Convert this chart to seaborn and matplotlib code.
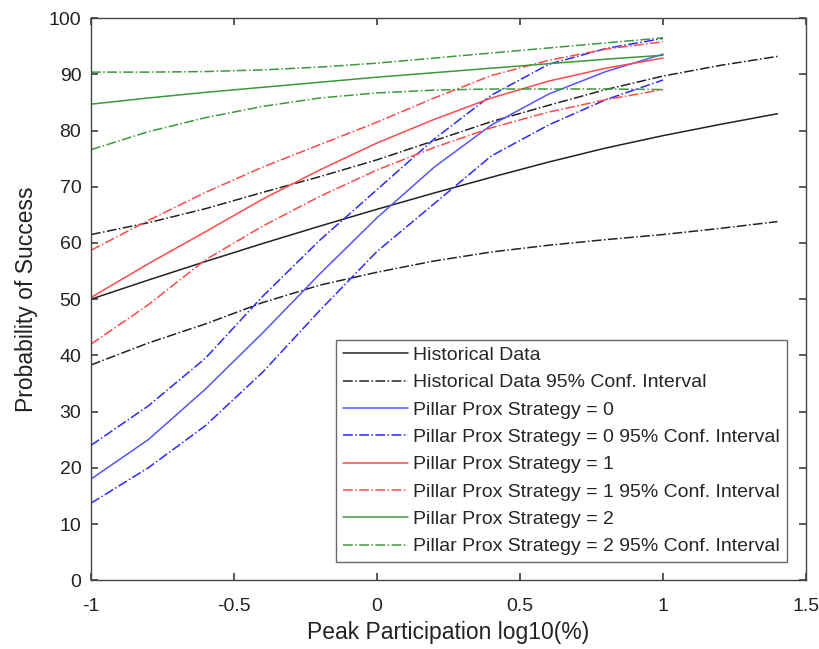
import pandas as pd
import matplotlib
matplotlib.use('Agg')
import matplotlib.pyplot as plt
import seaborn as sns

#%% data
x_hist = [-1.0, -0.8, -0.6, -0.4, -0.2, 0.0, 0.2, 0.4, 0.6, 0.8, 1.0, 1.2, 1.4]
hist_mean = [50.0, 53.4, 56.7, 59.9, 63.0, 66.0, 68.9, 71.7, 74.4, 76.9, 79.1, 81.1, 83.0]
hist_upper = [61.5, 63.6, 66.1, 69.0, 71.8, 74.8, 78.2, 81.6, 84.5, 87.3, 89.7, 91.6, 93.2]
hist_lower = [38.3, 42.2, 45.6, 49.4, 52.5, 54.8, 56.8, 58.4, 59.6, 60.6, 61.5, 62.6, 63.8]

x_pp = [-1.0, -0.8, -0.6, -0.4, -0.2, 0.0, 0.2, 0.4, 0.6, 0.8, 1.0]
pp0_mean = [18.0, 25.0, 34.0, 44.0, 54.5, 64.5, 73.5, 81.0, 86.5, 90.5, 93.6]
pp0_upper = [24.0, 31.0, 39.5, 50.5, 60.5, 69.5, 78.5, 86.3, 91.8, 94.6, 96.4]
pp0_lower = [13.7, 20.0, 27.5, 37.0, 48.0, 58.5, 67.0, 75.5, 81.0, 85.5, 89.0]

pp1_mean = [50.3, 56.3, 62.0, 67.8, 73.0, 77.8, 82.0, 85.8, 88.8, 91.1, 92.9]
pp1_upper = [58.7, 64.0, 69.0, 73.5, 77.5, 81.5, 85.8, 89.8, 92.5, 94.5, 95.8]
pp1_lower = [42.0, 49.0, 57.0, 63.0, 68.3, 73.0, 77.0, 80.5, 83.3, 85.5, 87.3]

pp2_mean = [84.7, 85.8, 86.8, 87.7, 88.6, 89.5, 90.3, 91.1, 91.9, 92.7, 93.4]
pp2_upper = [90.4, 90.4, 90.5, 90.8, 91.3, 92.0, 92.9, 93.8, 94.7, 95.6, 96.5]
pp2_lower = [76.6, 79.8, 82.3, 84.3, 85.8, 86.7, 87.2, 87.4, 87.4, 87.4, 87.3]

#%% style
sns.set_theme(style="ticks")
plt.rcParams['font.family'] = ['Liberation Sans', 'DejaVu Sans']

fig = plt.figure(figsize=(8.2, 6.49), dpi=100)
ax = fig.add_axes([0.111, 0.106, 0.872, 0.866])

series = [
    (x_hist, hist_mean, '#222222', '-', 'Historical Data'),
    (x_hist, hist_upper, '#222222', '-.', 'Historical Data 95% Conf. Interval'),
    (x_hist, hist_lower, '#222222', '-.', None),
    (x_pp, pp0_mean, '#5555ff', '-', 'Pillar Prox Strategy = 0'),
    (x_pp, pp0_upper, '#2a2aff', '-.', 'Pillar Prox Strategy = 0 95% Conf. Interval'),
    (x_pp, pp0_lower, '#2a2aff', '-.', None),
    (x_pp, pp1_mean, '#ff4a4a', '-', 'Pillar Prox Strategy = 1'),
    (x_pp, pp1_upper, '#ff4a4a', '-.', 'Pillar Prox Strategy = 1 95% Conf. Interval'),
    (x_pp, pp1_lower, '#ff4a4a', '-.', None),
    (x_pp, pp2_mean, '#3a9a3a', '-', 'Pillar Prox Strategy = 2'),
    (x_pp, pp2_upper, '#3a9a3a', '-.', 'Pillar Prox Strategy = 2 95% Conf. Interval'),
    (x_pp, pp2_lower, '#3a9a3a', '-.', None),
]

for xs, ys, col, ls, lab in series:
    df = pd.DataFrame({'x': xs, 'y': ys})
    sns.lineplot(data=df, x='x', y='y', color=col, linestyle=ls, linewidth=1.1,
                 label=lab if lab else '_nolegend_', ax=ax)

ax.set_xlim(-1, 1.5)
ax.set_ylim(0, 100)
ax.set_xticks([-1, -0.5, 0, 0.5, 1, 1.5])
ax.set_xticklabels(['-1', '-0.5', '0', '0.5', '1', '1.5'])
ax.set_yticks(range(0, 101, 10))
ax.tick_params(direction='in', top=True, right=True, labelsize=14, length=5,
               color='#444444', labelcolor='#222222')
ax.tick_params(axis='x', pad=13)
ax.tick_params(axis='y', pad=7)
for sp in ax.spines.values():
    sp.set_color('#444444')
    sp.set_linewidth(1.0)

ax.set_xlabel('Peak Participation log10(%)', fontsize=16.5, color='#222222', labelpad=4)
ax.set_ylabel('Probability of Success', fontsize=16.5, color='#222222', labelpad=8)

leg = ax.legend(loc='lower right', bbox_to_anchor=(0.973, 0.032), borderaxespad=0,
                fontsize=14, frameon=True, fancybox=False, edgecolor='#444444',
                handlelength=3.35, handletextpad=0.26, labelspacing=0.5, borderpad=0.35)
leg.get_frame().set_linewidth(1.0)

fig.savefig('out.png', dpi=100)
